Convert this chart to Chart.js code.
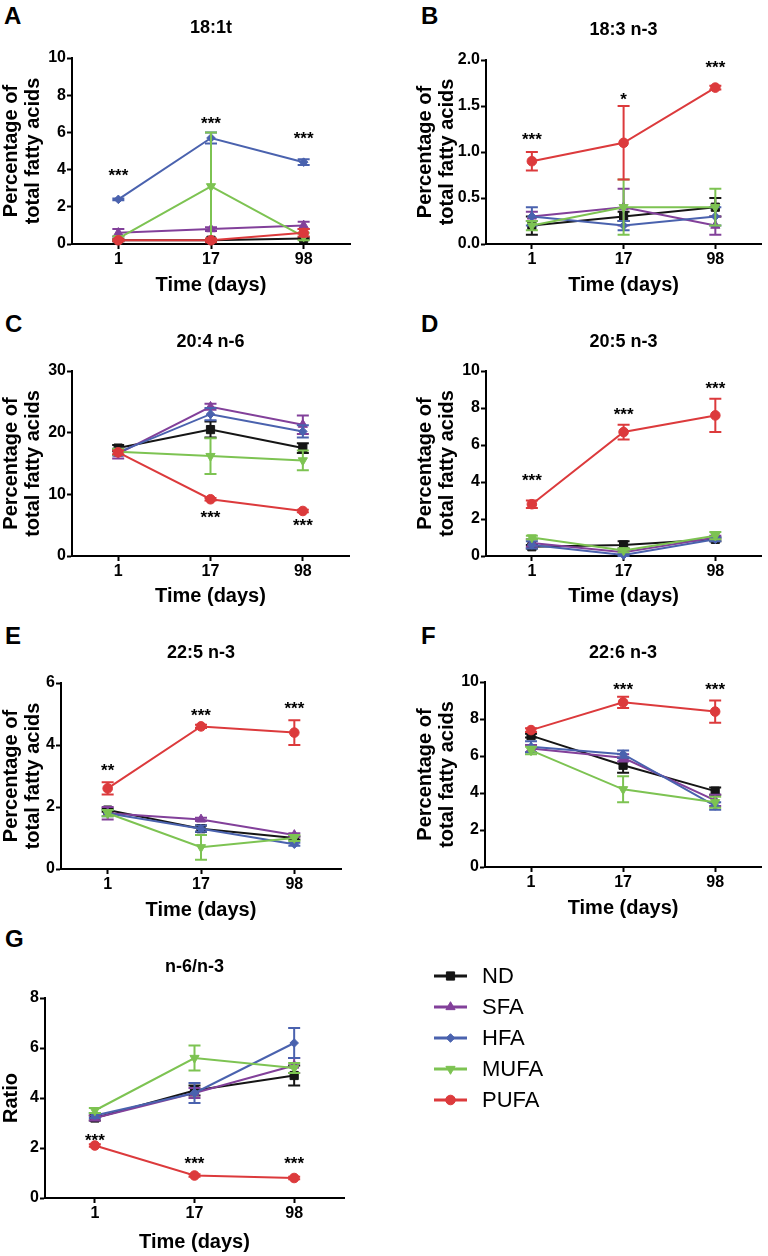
<!DOCTYPE html>
<html>
<head>
<meta charset="utf-8">
<script src="https://cdn.jsdelivr.net/npm/chart.js@4.4.1/dist/chart.umd.min.js"></script>
<style>
  body { margin: 0; background: #fff; }
  #page { position: relative; width: 768px; height: 1256px; overflow: hidden; background: #fff;
          font-family: "Liberation Sans", Arial, Helvetica, sans-serif; color: #000; }
  .panel { position: absolute; }
  .letter { position: absolute; font-weight: bold; font-size: 24px; line-height: 1; }
  #legend { position: absolute; left: 434px; top: 960px; font-size: 22px; }
  .legend-row { display: flex; align-items: center; height: 31px; }
  .legend-row canvas { margin-right: 15px; }
</style>
</head>
<body>
<div id="page">
  <div class="letter" style="left:4px;top:4px">A</div>
  <div class="letter" style="left:421px;top:4px">B</div>
  <div class="letter" style="left:5px;top:312px">C</div>
  <div class="letter" style="left:421px;top:312px">D</div>
  <div class="letter" style="left:5px;top:624px">E</div>
  <div class="letter" style="left:421px;top:624px">F</div>
  <div class="letter" style="left:5px;top:927px">G</div>
  <div id="legend"></div>
</div>
<script>
// categories
const days = ['1', '17', '98'];
const groups = ['ND', 'SFA', 'HFA', 'MUFA', 'PUFA'];

// A: 18:1t
const ndA = [0.2, 0.2, 0.3],     ndErrA = [0.05, 0.05, 0.05];
const sfaA = [0.6, 0.8, 1.0],    sfaErrA = [0.2, 0.1, 0.2];
const hfaA = [2.4, 5.7, 4.4],    hfaErrA = [0.05, 0.3, 0.15];
const mufaA = [0.3, 3.1, 0.4],   mufaErrA = [0.1, 2.9, 0.2];
const pufaA = [0.2, 0.2, 0.6],   pufaErrA = [0.05, 0.1, 0.2];
const starValA = [3.9, 6.7, 5.9], starTxtA = ['***', '***', '***'];

// B: 18:3 n-3
const ndB = [0.2, 0.3, 0.4],     ndErrB = [0.1, 0.05, 0.1];
const sfaB = [0.3, 0.4, 0.2],    sfaErrB = [0.05, 0.2, 0.1];
const hfaB = [0.3, 0.2, 0.3],    hfaErrB = [0.1, 0.05, 0.1];
const mufaB = [0.2, 0.4, 0.4],   mufaErrB = [0.05, 0.3, 0.2];
const pufaB = [0.9, 1.1, 1.7],   pufaErrB = [0.1, 0.4, 0.02];
const starValB = [1.18, 1.62, 1.96], starTxtB = ['***', '*', '***'];

// C: 20:4 n-6
const ndC = [17.5, 20.5, 17.5],  ndErrC = [0.5, 1.3, 0.8];
const sfaC = [16.6, 24.2, 21.3], sfaErrC = [0.8, 0.5, 1.5];
const hfaC = [16.8, 23.0, 20.2], hfaErrC = [0.5, 1.0, 1.0];
const mufaC = [16.9, 16.2, 15.5], mufaErrC = [0.5, 2.9, 1.6];
const pufaC = [16.8, 9.2, 7.3],  pufaErrC = [0.3, 0.2, 0.2];
const starValC = [null, 6.9, 5.6], starTxtC = ['', '***', '***'];

// D: 20:5 n-3
const ndD = [0.5, 0.6, 0.9],     ndErrD = [0.1, 0.2, 0.1];
const sfaD = [0.7, 0.2, 1.0],    sfaErrD = [0.2, 0.1, 0.1];
const hfaD = [0.6, 0.05, 0.9],   hfaErrD = [0.2, 0.05, 0.1];
const mufaD = [1.0, 0.3, 1.1],   mufaErrD = [0.1, 0.1, 0.2];
const pufaD = [2.8, 6.7, 7.6],   pufaErrD = [0.2, 0.4, 0.9];
const starValD = [4.3, 7.9, 9.3], starTxtD = ['***', '***', '***'];

// E: 22:5 n-3
const ndE = [1.9, 1.3, 1.0],     ndErrE = [0.05, 0.1, 0.05];
const sfaE = [1.8, 1.6, 1.1],    sfaErrE = [0.2, 0.05, 0.05];
const hfaE = [1.8, 1.3, 0.8],    hfaErrE = [0.1, 0.1, 0.05];
const mufaE = [1.8, 0.7, 1.0],   mufaErrE = [0.1, 0.4, 0.1];
const pufaE = [2.6, 4.6, 4.4],   pufaErrE = [0.2, 0.05, 0.4];
const starValE = [3.3, 5.1, 5.3], starTxtE = ['**', '***', '***'];

// F: 22:6 n-3
const ndF = [7.1, 5.5, 4.1],     ndErrF = [0.1, 0.4, 0.2];
const sfaF = [6.4, 5.9, 3.6],    sfaErrF = [0.2, 0.2, 0.3];
const hfaF = [6.5, 6.1, 3.3],    hfaErrF = [0.3, 0.2, 0.2];
const mufaF = [6.3, 4.2, 3.5],   mufaErrF = [0.2, 0.7, 0.3];
const pufaF = [7.4, 8.9, 8.4],   pufaErrF = [0.1, 0.3, 0.6];
const starValF = [null, 9.8, 9.8], starTxtF = ['', '***', '***'];

// G: n-6/n-3 ratio
const ndG = [3.2, 4.3, 4.9],     ndErrG = [0.1, 0.2, 0.4];
const sfaG = [3.2, 4.2, 5.3],    sfaErrG = [0.1, 0.2, 0.3];
const hfaG = [3.3, 4.2, 6.2],    hfaErrG = [0.1, 0.4, 0.6];
const mufaG = [3.5, 5.6, 5.2],   mufaErrG = [0.1, 0.5, 0.2];
const pufaG = [2.1, 0.9, 0.8],   pufaErrG = [0.05, 0.05, 0.05];
const starValG = [2.45, 1.54, 1.54], starTxtG = ['***', '***', '***'];

const FONT = '"Liberation Sans", Arial, Helvetica, sans-serif';
Chart.defaults.font.family = FONT;
Chart.defaults.color = '#000';

const styles = {
  ND:   { color: '#151515', pointStyle: 'rect',     radius: 5.8, rotation: 0 },
  SFA:  { color: '#82409a', pointStyle: 'triangle', radius: 5.3, rotation: 0 },
  HFA:  { color: '#4a62ae', pointStyle: 'rectRot',  radius: 4.3, rotation: 0 },
  MUFA: { color: '#7dc352', pointStyle: 'triangle', radius: 5.3, rotation: 180 },
  PUFA: { color: '#dc3a3c', pointStyle: 'circle',   radius: 4.8, rotation: 0 }
};

const errorBarPlugin = {
  id: 'errorBars',
  beforeDatasetDraw(chart, args) {
    const ds = chart.data.datasets[args.index];
    if (!ds.errors) return;
    const y = chart.scales.y;
    const ctx = chart.ctx;
    ctx.save();
    ctx.strokeStyle = ds.borderColor;
    ctx.lineWidth = 2;
    args.meta.data.forEach((pt, i) => {
      const e = ds.errors[i];
      if (!e) return;
      const top = y.getPixelForValue(ds.data[i] + e);
      const bot = y.getPixelForValue(Math.max(ds.data[i] - e, 0));
      ctx.beginPath();
      ctx.moveTo(pt.x, top); ctx.lineTo(pt.x, bot);
      ctx.moveTo(pt.x - 6, top); ctx.lineTo(pt.x + 6, top);
      ctx.moveTo(pt.x - 6, bot); ctx.lineTo(pt.x + 6, bot);
      ctx.stroke();
    });
    ctx.restore();
  }
};

const starsPlugin = {
  id: 'stars',
  afterDatasetsDraw(chart, args, opts) {
    const { ctx } = chart;
    const x = chart.scales.x, y = chart.scales.y;
    const size = 17;
    ctx.save();
    ctx.font = 'bold ' + size + 'px ' + FONT;
    ctx.fillStyle = '#000';
    ctx.textAlign = 'center';
    ctx.textBaseline = 'alphabetic';
    (opts.values || []).forEach((v, i) => {
      if (v == null) return;
      ctx.fillText(opts.texts[i], x.getPixelForValue(i), y.getPixelForValue(v) + size * 0.57);
    });
    ctx.restore();
  }
};

function makeDatasets(values, errs) {
  return groups.map((g, i) => {
    const s = styles[g];
    return {
      label: g,
      data: values[i],
      errors: errs[i],
      borderColor: s.color,
      backgroundColor: s.color,
      borderWidth: 2,
      pointStyle: s.pointStyle,
      pointRadius: s.radius,
      pointRotation: s.rotation,
      pointBorderWidth: 1,
      tension: 0,
      clip: false,
      order: 4 - i
    };
  });
}

function buildPanel(p) {
  const [bx, by, bw, bh] = p.box;
  const [l, t, r, b] = p.area;
  const wrap = document.createElement('div');
  wrap.className = 'panel';
  wrap.style.left = bx + 'px';
  wrap.style.top = by + 'px';
  const canvas = document.createElement('canvas');
  canvas.width = bw;
  canvas.height = bh;
  wrap.appendChild(canvas);
  document.getElementById('page').appendChild(wrap);

  const titleLH = 18 * 1.2;
  const axisLH = 20 * 1.1;
  const yWidth = l - bx - p.padLeft;
  const xHeight = p.xTitleY + axisLH / 2 - b;

  new Chart(canvas, {
    type: 'line',
    data: { labels: days, datasets: makeDatasets(p.values, p.errs) },
    plugins: [errorBarPlugin, starsPlugin],
    options: {
      responsive: false,
      animation: false,
      events: [],
      layout: {
        padding: { left: p.padLeft, right: bx + bw - r, top: 0, bottom: by + bh - (p.xTitleY + axisLH / 2) }
      },
      plugins: {
        legend: { display: false },
        tooltip: { enabled: false },
        title: {
          display: true,
          text: p.title,
          fullSize: false,
          font: { size: 18, weight: 'bold', lineHeight: 1.2 },
          padding: { top: p.titleY - by - titleLH / 2, bottom: t - p.titleY - titleLH / 2 }
        },
        stars: { values: p.starVals, texts: p.starTxts }
      },
      scales: {
        x: {
          type: 'category',
          offset: true,
          grid: { display: true, drawOnChartArea: false, drawTicks: true, tickLength: 5, tickWidth: 2, tickColor: '#000' },
          border: { display: true, color: '#000', width: 2 },
          ticks: { font: { size: 16, weight: 'bold' }, padding: 1, maxRotation: 0 },
          title: { display: true, text: 'Time (days)', font: { size: 20, weight: 'bold', lineHeight: 1.1 }, padding: 0 },
          afterFit: s => { s.height = xHeight; }
        },
        y: {
          min: 0,
          max: p.yMax,
          grid: { display: true, drawOnChartArea: false, drawTicks: true, tickLength: 5, tickWidth: 2, tickColor: '#000' },
          border: { display: true, color: '#000', width: 2 },
          ticks: {
            stepSize: p.yStep,
            font: { size: 16, weight: 'bold' },
            padding: 1,
            callback: v => v.toFixed(p.yDec)
          },
          title: { display: true, text: p.yTitle, font: { size: 20, weight: 'bold', lineHeight: 1.1 }, padding: 0 },
          afterFit: s => { s.width = yWidth; }
        }
      }
    }
  });
}

const pctTitle = ['Percentage of', 'total fatty acids'];

buildPanel({ title: '18:1t', yTitle: pctTitle, yMax: 10, yStep: 2, yDec: 0,
  box: [0, 0, 384, 305], area: [72, 58, 350, 244], titleY: 28, xTitleY: 285, padLeft: 0,
  values: [ndA, sfaA, hfaA, mufaA, pufaA], errs: [ndErrA, sfaErrA, hfaErrA, mufaErrA, pufaErrA],
  starVals: starValA, starTxts: starTxtA });

buildPanel({ title: '18:3 n-3', yTitle: pctTitle, yMax: 2, yStep: 0.5, yDec: 1,
  box: [384, 0, 384, 305], area: [486, 60, 764, 244], titleY: 30, xTitleY: 285, padLeft: 30,
  values: [ndB, sfaB, hfaB, mufaB, pufaB], errs: [ndErrB, sfaErrB, hfaErrB, mufaErrB, pufaErrB],
  starVals: starValB, starTxts: starTxtB });

buildPanel({ title: '20:4 n-6', yTitle: pctTitle, yMax: 30, yStep: 10, yDec: 0,
  box: [0, 300, 384, 310], area: [72, 371, 349, 556], titleY: 342, xTitleY: 596, padLeft: 0,
  values: [ndC, sfaC, hfaC, mufaC, pufaC], errs: [ndErrC, sfaErrC, hfaErrC, mufaErrC, pufaErrC],
  starVals: starValC, starTxts: starTxtC });

buildPanel({ title: '20:5 n-3', yTitle: pctTitle, yMax: 10, yStep: 2, yDec: 0,
  box: [384, 300, 384, 310], area: [486, 371, 762, 556], titleY: 342, xTitleY: 596, padLeft: 30,
  values: [ndD, sfaD, hfaD, mufaD, pufaD], errs: [ndErrD, sfaErrD, hfaErrD, mufaErrD, pufaErrD],
  starVals: starValD, starTxts: starTxtD });

buildPanel({ title: '22:5 n-3', yTitle: pctTitle, yMax: 6, yStep: 2, yDec: 0,
  box: [0, 620, 384, 310], area: [61, 683, 341, 869], titleY: 653, xTitleY: 910, padLeft: 0,
  values: [ndE, sfaE, hfaE, mufaE, pufaE], errs: [ndErrE, sfaErrE, hfaErrE, mufaErrE, pufaErrE],
  starVals: starValE, starTxts: starTxtE });

buildPanel({ title: '22:6 n-3', yTitle: pctTitle, yMax: 10, yStep: 2, yDec: 0,
  box: [384, 620, 384, 310], area: [485, 682, 762, 867], titleY: 653, xTitleY: 908, padLeft: 30,
  values: [ndF, sfaF, hfaF, mufaF, pufaF], errs: [ndErrF, sfaErrF, hfaErrF, mufaErrF, pufaErrF],
  starVals: starValF, starTxts: starTxtF });

buildPanel({ title: 'n-6/n-3', yTitle: 'Ratio', yMax: 8, yStep: 2, yDec: 0,
  box: [0, 935, 384, 321], area: [45, 998, 344, 1198], titleY: 967, xTitleY: 1242, padLeft: 0,
  values: [ndG, sfaG, hfaG, mufaG, pufaG], errs: [ndErrG, sfaErrG, hfaErrG, mufaErrG, pufaErrG],
  starVals: starValG, starTxts: starTxtG });

// legend: line + marker icon drawn with Chart.js point helper
const legend = document.getElementById('legend');
groups.forEach(g => {
  const s = styles[g];
  const row = document.createElement('div');
  row.className = 'legend-row';
  const icon = document.createElement('canvas');
  icon.width = 33; icon.height = 16;
  const ctx = icon.getContext('2d');
  ctx.strokeStyle = s.color;
  ctx.fillStyle = s.color;
  ctx.lineWidth = 3;
  ctx.beginPath(); ctx.moveTo(0, 8); ctx.lineTo(33, 8); ctx.stroke();
  ctx.lineWidth = 1;
  if (Chart.helpers && Chart.helpers.drawPoint) {
    Chart.helpers.drawPoint(ctx, { pointStyle: s.pointStyle, radius: s.radius, rotation: s.rotation, borderWidth: 1 }, 16.5, 8);
  }
  const label = document.createElement('span');
  label.textContent = g;
  row.appendChild(icon);
  row.appendChild(label);
  legend.appendChild(row);
});
</script>
</body>
</html>
